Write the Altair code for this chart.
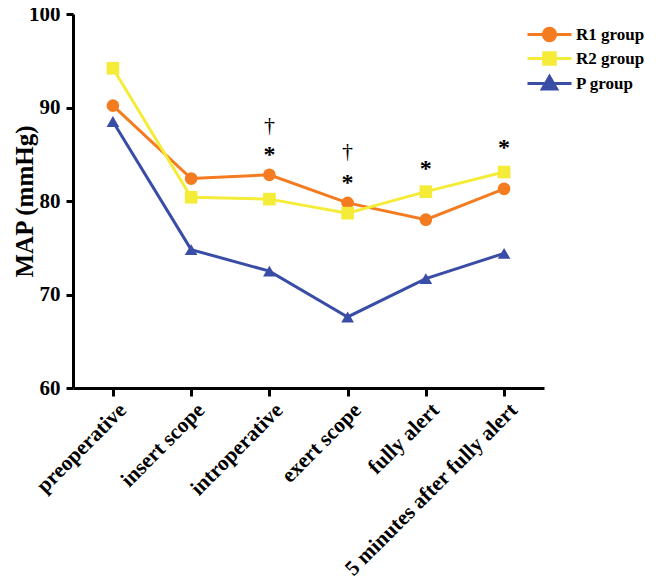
import altair as alt
import pandas as pd

categories = ["preoperative", "insert scope", "introperative", "exert scope",
              "fully alert", "5 minutes after fully alert"]
groups = ["R1 group", "R2 group", "P group"]
r1_values = [90.2, 82.4, 82.8, 79.8, 78.0, 81.3]
r2_values = [94.2, 80.4, 80.2, 78.7, 81.0, 83.1]
p_values = [88.5, 74.8, 72.5, 67.6, 71.7, 74.4]

star_cats = ["introperative", "exert scope", "fully alert", "5 minutes after fully alert"]
star_y = [85.4, 82.4, 83.8, 86.1]
dagger_cats = ["introperative", "exert scope"]
dagger_y = [88.1, 85.3]

colors = ["#F47B20", "#F5EC3A", "#3A4DA6"]
shapes = ["circle", "square", "triangle-up"]

FONT = "Liberation Serif, Times New Roman, Tinos, DejaVu Serif, serif"

rows = []
for g, vals in zip(groups, [r1_values, r2_values, p_values]):
    for c, v in zip(categories, vals):
        rows.append({"time": c, "group": g, "MAP": v})
df = pd.DataFrame(rows)
stars = pd.DataFrame({"time": star_cats, "MAP": star_y, "t": ["*"] * len(star_cats)})
daggers = pd.DataFrame({"time": dagger_cats, "MAP": dagger_y, "t": ["\u2020"] * len(dagger_cats)})

x = alt.X("time:N", sort=categories, title=None,
          scale=alt.Scale(type="point", padding=0.51),
          axis=alt.Axis(labelAngle=-45, labelAlign="right", labelBaseline="top",
                        labelFont=FONT, labelFontWeight="bold", labelFontSize=21.5,
                        labelColor="black", domainColor="black", domainWidth=3,
                        tickColor="black", tickWidth=3, tickSize=8, labelPadding=3,
                        labelOffset=2, labelLimit=400))
y = alt.Y("MAP:Q", title="MAP (mmHg)",
          scale=alt.Scale(domain=[60, 100], nice=False, zero=False),
          axis=alt.Axis(values=[60, 70, 80, 90, 100], grid=False,
                        labelFont=FONT, labelFontWeight="bold", labelFontSize=21,
                        labelColor="black", domainColor="black", domainWidth=3,
                        tickColor="black", tickWidth=3, tickSize=7, labelPadding=6,
                        titleFont=FONT, titleFontWeight="bold", titleFontSize=25,
                        titleColor="black", titlePadding=-9))

p_circle = "M-2.2,0H2.2M-0.62,0A0.62,0.62,0,1,0,0.62,0A0.62,0.62,0,1,0,-0.62,0Z"
p_square = "M-2.2,0H2.2M-0.58,-0.58H0.58V0.58H-0.58Z"
p_tri = "M-2.2,0H2.2M0,-0.7L0.72,0.55H-0.72Z"

legend = alt.Legend(orient="none", legendX=465, legendY=9, title=None,
                    symbolSize=400, symbolStrokeWidth=3, symbolOpacity=1,
                    labelFont=FONT, labelFontWeight="bold", labelFontSize=17,
                    labelColor="black", labelOffset=15, rowPadding=-1)

color = alt.Color("group:N", scale=alt.Scale(domain=groups, range=colors), legend=None)

legend_layer = alt.Chart(df).mark_point(
    filled=True, opacity=0, strokeWidth=3).encode(
    x=x, y=y,
    fill=alt.Fill("group:N", scale=alt.Scale(domain=groups, range=colors), legend=legend),
    stroke=alt.Stroke("group:N", scale=alt.Scale(domain=groups, range=colors), legend=legend),
    shape=alt.Shape("group:N", scale=alt.Scale(domain=groups, range=[p_circle, p_square, p_tri]),
                    legend=legend))
lines = alt.Chart(df).mark_line(strokeWidth=3).encode(x=x, y=y, color=color)
point_layers = [
    alt.Chart(df).transform_filter(alt.datum.group == g).mark_point(
        filled=True, opacity=1, size=160, shape=s).encode(x=x, y=y, color=color)
    for g, s in zip(groups, shapes)
]
star_txt = alt.Chart(stars).mark_text(font=FONT, fontWeight="bold", fontSize=24,
                                      baseline="middle", dy=4, color="black").encode(
    x=x, y=y, text="t:N")
dagger_txt = alt.Chart(daggers).mark_text(font=FONT, fontSize=22, baseline="middle",
                                          color="black").encode(x=x, y=y, text="t:N")

chart = alt.layer(legend_layer, lines, *point_layers, star_txt, dagger_txt).properties(
    width=471, height=374, autosize="none",
    padding={"left": 65, "top": 6, "right": 104, "bottom": 193}
).configure(background="white").configure_view(stroke=None)

chart.save("out.html", embed_options={"renderer": "svg", "actions": False})
